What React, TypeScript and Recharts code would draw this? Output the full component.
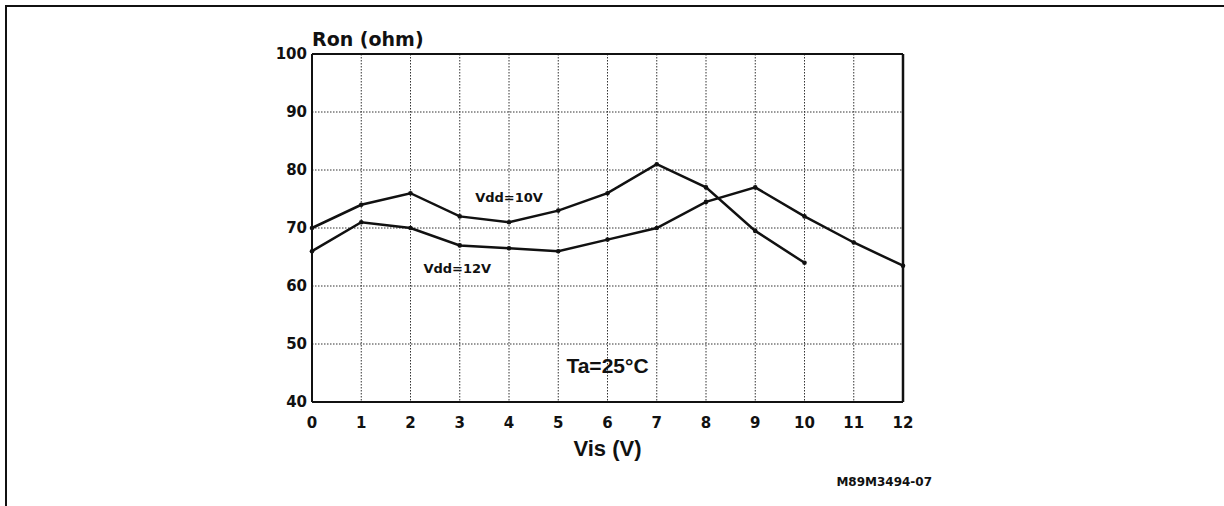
import React from 'react';
import { LineChart, Line, XAxis, YAxis, CartesianGrid, ReferenceLine, ReferenceDot } from 'recharts';

// Vis (V) sample points
const VIS = [0, 1, 2, 3, 4, 5, 6, 7, 8, 9, 10, 11, 12];
// Ron (ohm)
const VDD10 = [70, 74, 76, 72, 71, 73, 76, 81, 77, 69.5, 64, null, null];
const VDD12 = [66, 71, 70, 67, 66.5, 66, 68, 70, 74.5, 77, 72, 67.5, 63.5];
const Y_TICKS = [40, 50, 60, 70, 80, 90, 100];

const data = VIS.map((v, i) => ({ vis: v, vdd10: VDD10[i], vdd12: VDD12[i] }));

const INK = '#111';
const DEJAVU = 'DejaVu Sans, sans-serif';
const ARIAL = 'Liberation Sans, Arial, sans-serif';

const tickStyle = { fill: INK, fontSize: 15, fontWeight: 700, fontFamily: DEJAVU };
const dotStyle = { r: 2.3, fill: INK, stroke: INK, strokeWidth: 0 };

export default function App() {
  return (
    <div style={{ position: 'absolute', left: 0, top: 0, width: 1224, height: 506, background: '#fff' }}>
      <div
        style={{
          position: 'absolute',
          left: 5,
          top: 5,
          width: 1219,
          height: 501,
          borderTop: `2px solid ${INK}`,
          borderLeft: `2px solid ${INK}`,
          boxSizing: 'border-box',
        }}
      />
      <LineChart
        width={1224}
        height={506}
        data={data}
        margin={{ top: 54, right: 321, bottom: 74, left: 272 }}
        style={{ position: 'absolute', left: 0, top: 0 }}
      >
        <CartesianGrid strokeDasharray="1.5 1.5" stroke="#333" strokeWidth={1} />
        <XAxis
          dataKey="vis"
          type="number"
          domain={[0, 12]}
          ticks={VIS}
          height={30}
          tickSize={0}
          tickMargin={15}
          interval={0}
          tick={tickStyle}
          axisLine={{ stroke: INK, strokeWidth: 2 }}
          label={{ value: 'Vis (V)', position: 'bottom', offset: 8, fill: INK, fontSize: 22, fontWeight: 700, fontFamily: ARIAL }}
        />
        <YAxis
          type="number"
          domain={[40, 100]}
          ticks={Y_TICKS}
          width={40}
          tickSize={0}
          tickMargin={5}
          interval={0}
          tick={tickStyle}
          axisLine={{ stroke: INK, strokeWidth: 2 }}
        />
        <ReferenceLine y={100} stroke={INK} strokeWidth={2} />
        <ReferenceLine x={12} stroke={INK} strokeWidth={2.5} />
        <Line
          dataKey="vdd10"
          stroke={INK}
          strokeWidth={2.5}
          dot={dotStyle}
          activeDot={false}
          isAnimationActive={false}
        />
        <Line
          dataKey="vdd12"
          stroke={INK}
          strokeWidth={2.5}
          dot={dotStyle}
          activeDot={false}
          isAnimationActive={false}
        />
        <ReferenceDot
          x={0}
          y={102.6}
          r={0}
          ifOverflow="visible"
          label={{ value: 'Ron (ohm)', position: 'right', offset: 0, fill: INK, fontSize: 19, fontWeight: 700, fontFamily: DEJAVU }}
        />
        <ReferenceDot
          x={4}
          y={75.3}
          r={0}
          label={{ value: 'Vdd=10V', position: 'center', fill: INK, fontSize: 13, fontWeight: 700, fontFamily: DEJAVU }}
        />
        <ReferenceDot
          x={2.95}
          y={63.1}
          r={0}
          label={{ value: 'Vdd=12V', position: 'center', fill: INK, fontSize: 13, fontWeight: 700, fontFamily: DEJAVU }}
        />
        <ReferenceDot
          x={6}
          y={46.2}
          r={0}
          label={{ value: 'Ta=25°C', position: 'center', fill: INK, fontSize: 21, fontWeight: 700, fontFamily: ARIAL }}
        />
        <ReferenceDot
          x={12.59}
          y={26.2}
          r={0}
          ifOverflow="visible"
          label={{ value: 'M89M3494-07', position: 'left', offset: 0, fill: INK, fontSize: 12, fontWeight: 700, fontFamily: DEJAVU }}
        />
      </LineChart>
    </div>
  );
}
